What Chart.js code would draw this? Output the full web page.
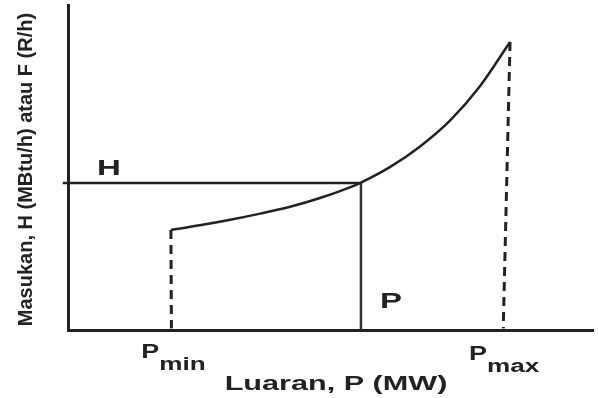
<!DOCTYPE html>
<html>
<head>
<meta charset="utf-8">
<script src="https://cdn.jsdelivr.net/npm/chart.js@4/dist/chart.umd.min.js"></script>
<style>
    html, body { margin: 0; padding: 0; background: #fff; }
    #wrap { width: 598px; height: 398px; }
</style>
</head>
<body>
<div id="wrap"><canvas id="curveChart" width="598" height="398"></canvas></div>
<script>
// Input-output curve (axes 0..100)
const curveP = [19.6, 25.1, 30.9, 36.6, 42.3, 48.0, 53.7, 55.6, 61.3, 67.0, 72.8, 78.5, 84.2];
const curveH = [30.8, 32.2, 33.9, 35.8, 37.9, 40.6, 43.9, 45.2, 50.1, 56.4, 64.5, 75.1, 88.6];

// Marker lines
const hLineP = [-1, 55.6];
const hLineH = [45.2, 45.2];
const pLineP = [55.8, 55.8];
const pLineH = [45.2, 0];
const pMinP = [19.6, 19.7];
const pMinH = [30.8, 0.5];
const pMaxP = [84.2, 82.9];
const pMaxH = [88.6, 0.5];

const toPoints = (xs, ys) => xs.map((x, i) => ({ x: x, y: ys[i] }));

const ink = '#222';

function drawText(ctx, text, x, y, size, sx, align) {
    ctx.save();
    ctx.font = 'bold ' + size + 'px "Liberation Sans", Arial, sans-serif';
    const w = ctx.measureText(text).width * sx;
    let left = x;
    if (align === 'center') left = x - w / 2;
    ctx.translate(left, y);
    ctx.scale(sx, 1);
    ctx.textBaseline = 'alphabetic';
    ctx.fillStyle = ink;
    ctx.fillText(text, 0, 0);
    ctx.restore();
    return w;
}

// P with subscript, centred on x
function drawSub(ctx, main, sub, x, y) {
    ctx.save();
    ctx.font = 'bold 20px "Liberation Sans", Arial, sans-serif';
    const w1 = ctx.measureText(main).width * 1.35;
    ctx.font = 'bold 18px "Liberation Sans", Arial, sans-serif';
    const w2 = ctx.measureText(sub).width * 1.45;
    ctx.restore();
    const left = x - (w1 + w2) / 2;
    drawText(ctx, main, left, y, 20, 1.35, 'left');
    drawText(ctx, sub, left + w1, y + 12, 18, 1.45, 'left');
}

const labelsPlugin = {
    id: 'labels',
    afterDraw(chart) {
        const ctx = chart.ctx;
        const xs = chart.scales.x;
        const ys = chart.scales.y;
        const area = chart.chartArea;

        drawText(ctx, 'H', 97, ys.getPixelForValue(hLineH[0]) - 8, 22, 1.5, 'left');
        drawText(ctx, 'P', xs.getPixelForValue(pLineP[0]) + 19, area.bottom - 22, 22, 1.5, 'left');

        drawSub(ctx, 'P', 'min', xs.getPixelForValue(pMinP[1]) + 2, area.bottom + 28);
        drawSub(ctx, 'P', 'max', xs.getPixelForValue(pMaxP[1]) + 1, area.bottom + 30);

        drawText(ctx, 'Luaran, P (MW)', 336, area.bottom + 60, 20, 1.53, 'center');

        // y-axis title
        ctx.save();
        ctx.translate(32, (area.top + area.bottom) / 2 + 2);
        ctx.rotate(-Math.PI / 2);
        ctx.font = 'bold 20px "Liberation Sans", Arial, sans-serif';
        ctx.fillStyle = ink;
        ctx.textAlign = 'center';
        ctx.fillText('Masukan, H (MBtu/h) atau F (R/h)', 0, 0);
        ctx.restore();
    }
};

const lineStyle = {
    showLine: true,
    pointRadius: 0,
    borderColor: ink,
    borderWidth: 2.5,
    fill: false
};

new Chart(document.getElementById('curveChart').getContext('2d'), {
    type: 'scatter',
    data: {
        datasets: [
            Object.assign({}, lineStyle, {
                data: toPoints(curveP, curveH),
                cubicInterpolationMode: 'monotone'
            }),
            Object.assign({}, lineStyle, { data: toPoints(hLineP, hLineH), clip: false }),
            Object.assign({}, lineStyle, { data: toPoints(pLineP, pLineH), borderColor: '#333' }),
            Object.assign({}, lineStyle, { data: toPoints(pMinP, pMinH), borderWidth: 3, borderDash: [9, 6] }),
            Object.assign({}, lineStyle, { data: toPoints(pMaxP, pMaxH), borderWidth: 3, borderDash: [9, 6] })
        ]
    },
    options: {
        responsive: false,
        animation: false,
        layout: { padding: { left: 68, right: 5, top: 5, bottom: 68 } },
        plugins: {
            legend: { display: false },
            tooltip: { enabled: false }
        },
        scales: {
            x: {
                type: 'linear',
                min: 0,
                max: 100,
                ticks: { display: false },
                grid: { display: false, drawTicks: false },
                border: { display: true, color: ink, width: 3 }
            },
            y: {
                type: 'linear',
                min: 0,
                max: 100,
                ticks: { display: false },
                grid: { display: false, drawTicks: false },
                border: { display: true, color: ink, width: 3 }
            }
        }
    },
    plugins: [labelsPlugin]
});
</script>
</body>
</html>
